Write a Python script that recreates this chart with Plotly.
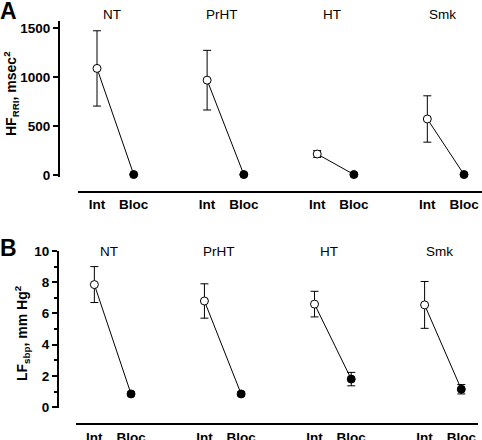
import plotly.graph_objects as go

groups = ["NT", "PrHT", "HT", "Smk"]
conditions = ["Int", "Bloc"]

# Panel A: HF RRI (msec^2)
hf_int = [1090, 970, 215, 573]
hf_int_err = [385, 305, 35, 237]
hf_bloc = [5, 5, 5, 5]
hf_bloc_err = [0, 0, 0, 0]

# Panel B: LF sbp (mm Hg^2)
lf_int = [7.85, 6.8, 6.6, 6.55]
lf_int_err = [1.15, 1.1, 0.82, 1.5]
lf_bloc = [0.85, 0.85, 1.8, 1.15]
lf_bloc_err = [0.12, 0.12, 0.43, 0.3]

W, H = 482, 440
FONT = "Liberation Sans, Arial, sans-serif"


def px_x(p):
    return p / W


def px_y(p):
    return 1 - p / H


fig = go.Figure()

panels = [
    dict(xa="x", ya="y", ints=hf_int, ierr=hf_int_err, blocs=hf_bloc, berr=hf_bloc_err),
    dict(xa="x2", ya="y2", ints=lf_int, ierr=lf_int_err, blocs=lf_bloc, berr=lf_bloc_err),
]

for pan in panels:
    for gi, g in enumerate(groups):
        xs = [gi * 3, gi * 3 + 1]
        fig.add_trace(go.Scatter(
            x=xs, y=[pan["ints"][gi], pan["blocs"][gi]],
            xaxis=pan["xa"], yaxis=pan["ya"],
            mode="lines+markers",
            line=dict(color="black", width=1),
            marker=dict(symbol="circle", size=8, color=["white", "black"],
                        line=dict(color="black", width=1)),
            error_y=dict(type="data", array=[pan["ierr"][gi], pan["berr"][gi]],
                         color="black", thickness=1, width=4),
            showlegend=False, cliponaxis=False, hoverinfo="skip",
        ))

tickvals = [i for gi in range(len(groups)) for i in (gi * 3, gi * 3 + 1)]
ticktext = conditions * len(groups)

common_x = dict(tickmode="array", tickvals=tickvals, ticktext=ticktext,
                showline=True, linecolor="black", linewidth=2, ticks="",
                showgrid=False, zeroline=False, anchor="free", automargin=False,
                tickfont=dict(family=FONT, size=13.5, color="black", weight="bold"))
common_y = dict(showline=True, linecolor="black", linewidth=2, ticks="outside",
                ticklen=5, tickwidth=2, tickcolor="black", showgrid=False,
                zeroline=False, anchor="free", automargin=False,
                tickfont=dict(family=FONT, size=13.5, color="black", weight="bold"))

fig.update_layout(
    width=W, height=H, margin=dict(l=0, r=0, t=0, b=0, pad=0),
    paper_bgcolor="white", plot_bgcolor="white",
    xaxis=dict(common_x, domain=[px_x(78), px_x(482)], range=[-0.518, 10.49],
               position=px_y(192)),
    yaxis=dict(common_y, domain=[px_y(176.5), px_y(20.5)], range=[-15, 1580],
               tickvals=[0, 500, 1000, 1500], position=px_x(59)),
    xaxis2=dict(common_x, domain=[px_x(76), px_x(478)], range=[-0.5, 10.455],
                position=px_y(424.3)),
    yaxis2=dict(common_y, domain=[px_y(408), px_y(251)], range=[-0.05, 10],
                tickvals=[0, 2, 4, 6, 8, 10], position=px_x(58),
                minor=dict(ticks="outside", ticklen=3, tickwidth=2,
                           tickcolor="black", dtick=1, tick0=0)),
)

ann = []
for gi, g in enumerate(groups):
    ann.append(dict(text=g, x=gi * 3 + 0.4, y=px_y(14), xref="x", yref="paper",
                    xanchor="center", yanchor="middle", showarrow=False,
                    font=dict(family=FONT, size=13.5, color="black")))
    ann.append(dict(text=g, x=gi * 3 + 0.4, y=px_y(251.5), xref="x2", yref="paper",
                    xanchor="center", yanchor="middle", showarrow=False,
                    font=dict(family=FONT, size=13.5, color="black")))

ann.append(dict(text="<b>A</b>", x=px_x(8.5), y=px_y(11.5), xref="paper", yref="paper",
                xanchor="center", yanchor="middle", showarrow=False,
                font=dict(family=FONT, size=23, color="black")))
ann.append(dict(text="<b>B</b>", x=px_x(8.5), y=px_y(248), xref="paper", yref="paper",
                xanchor="center", yanchor="middle", showarrow=False,
                font=dict(family=FONT, size=23, color="black")))
ann.append(dict(text="<b>HF<sub>RRI</sub>, msec<sup>2</sup></b>", x=px_x(11), y=px_y(94),
                xref="paper", yref="paper", textangle=-90, showarrow=False,
                xanchor="center", yanchor="middle",
                font=dict(family=FONT, size=14, color="black")))
ann.append(dict(text="<b>LF<sub>sbp</sub>, mm Hg<sup>2</sup></b>", x=px_x(22), y=px_y(333),
                xref="paper", yref="paper", textangle=-90, showarrow=False,
                xanchor="center", yanchor="middle",
                font=dict(family=FONT, size=14, color="black")))
fig.update_layout(annotations=ann)

fig.write_html("out.html", config={"displayModeBar": False},
               post_script="document.body.style.margin='0';document.body.style.overflow='hidden';")
